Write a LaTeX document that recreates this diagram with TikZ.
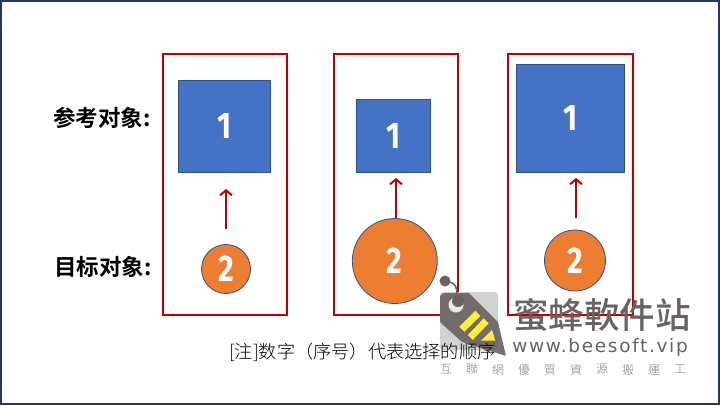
\documentclass[tikz,border=0pt]{standalone}
\usepackage{fontspec}
\usetikzlibrary{arrows.meta}
\newfontfamily\cjkbold{Noto Sans CJK SC Bold}
\newfontfamily\cjkmark{Noto Sans CJK TC Medium}
\newfontfamily\cjklight{Noto Sans CJK SC Light}
\newfontfamily\cjkline{Noto Sans CJK TC Light}
\newfontfamily\digitfont[FakeStretch=0.82]{Fira Sans Bold}
\newfontfamily\webfont[LetterSpace=9]{DejaVu Sans}
\definecolor{shapeblue}{HTML}{4472C4}
\definecolor{shapeorange}{HTML}{ED7D31}
\definecolor{framered}{HTML}{C00000}
\definecolor{shapeline}{HTML}{2F528F}
\definecolor{pageline}{HTML}{1F3864}
\definecolor{markgray}{HTML}{696261}
\definecolor{markback}{HTML}{CCCDCC}
\definecolor{markyellow}{HTML}{FFF033}
\tikzset{
  groupframe/.style={draw=framered,line width=2pt},
  refshape/.style={draw=shapeline,line width=0.8pt,fill=shapeblue,text=white,font=\digitfont\fontsize{37}{37}\selectfont,inner sep=0pt},
  targetshape/.style={circle,draw=shapeline,line width=0.8pt,fill=shapeorange,text=white,font=\digitfont\fontsize{37}{37}\selectfont,inner sep=0pt},
  rowlabel/.style={font=\cjkbold\fontsize{22.5}{24}\selectfont,anchor=west,inner sep=0pt},
  pick/.style={framered,line width=2pt,-{Straight Barb[length=5pt,width=12pt]}}
}
\begin{document}
\begin{tikzpicture}[x=1pt,y=-1pt]
    \useasboundingbox (0,0) rectangle (720,405);
    \draw[pageline,line width=1.8pt] (0.9,0.9) rectangle (719.1,404.1);

    % group frames
    \draw[groupframe] (163,53.5) rectangle (287,315);
    \draw[groupframe] (333.5,53.5) rectangle (458,315);
    \draw[groupframe] (508,53.5) rectangle (632.5,315);

    % row labels
    \node[rowlabel] (reflabel) at (53,118) {参考对象:};
    \node[rowlabel] (targetlabel) at (54,267) {目标对象:};

    % reference objects
    \node[refshape,minimum width=91.5pt,minimum height=92pt] (refa) at (224.3,126) {1};
    \node[refshape,minimum width=73.5pt,minimum height=73pt] (refb) at (393.3,135.5) {1};
    \node[refshape,minimum width=108pt,minimum height=107.5pt] (refc) at (570.5,118.3) {1};

    % target objects
    \node[targetshape,minimum size=49pt] (targeta) at (226,269) {2};
    \node[targetshape,minimum size=85pt] (targetb) at (394.8,261) {2};
    \node[targetshape,minimum size=61pt] (targetc) at (575,260.5) {2};

    % arrows
    \coordinate (taila) at (226,229);
    \coordinate (heada) at (226,189);
    \coordinate (tailb) at (396,218);
    \coordinate (headb) at (396,178);
    \coordinate (tailc) at (576,218);
    \coordinate (headc) at (576,178);
    \draw[pick] (taila) -- (heada);
    \draw[pick] (tailb) -- (headb);
    \draw[pick] (tailc) -- (headc);

    % watermark
    \fill[rounded corners=3pt,markback,opacity=0.9] (440,292) rectangle (498,350);
    \fill[markgray,opacity=0.9,rounded corners=1pt] (440,296) -- (443,293) -- (469,293) -- (498,322) -- (506,356) -- (462,342) -- (440,322) -- cycle;
    \fill[markgray] (445,281) circle (5.5pt);
    \draw[markgray,line width=1.6pt] (449,282) .. controls (455,283) and (457,287) .. (457,294);
    \fill[white,opacity=0.85] (456,305) circle (7.5pt);
    \fill[markgray] (458,301) circle (6pt);
    \fill[markyellow] (459.3,326.7) -- (475.3,310.7) -- (480.3,316) -- (464.3,331.7) -- cycle;
    \fill[markyellow] (468,335) -- (483.7,318.3) -- (488.7,323.3) -- (472.7,340) -- cycle;
    \fill[markyellow] (481,340.7) -- (492,330) -- (495.3,340.7) -- cycle;
    \node[markgray,font=\cjkmark\fontsize{35.5}{36}\selectfont,inner sep=0pt] (markname) at (602,314.5) {蜜蜂軟件站};
    \node[markgray,font=\webfont\fontsize{18.5}{19}\selectfont,inner sep=0pt] (markweb) at (600,347) {www.beesoft.vip};
    \foreach \i/\ch in {0/互,1/聯,2/網,3/優,4/質,5/資,6/源,7/搬,8/運,9/工}
        \node[gray,font=\cjkline\fontsize{12}{12}\selectfont,inner sep=0pt] (line\i) at (446+26*\i,369.5) {\ch};

    % note
    \node[font=\cjklight\fontsize{18.2}{18.2}\selectfont,anchor=west,inner sep=0pt] (note) at (229,352) {[注]数字（序号）代表选择的顺序};
\end{tikzpicture}
\end{document}
